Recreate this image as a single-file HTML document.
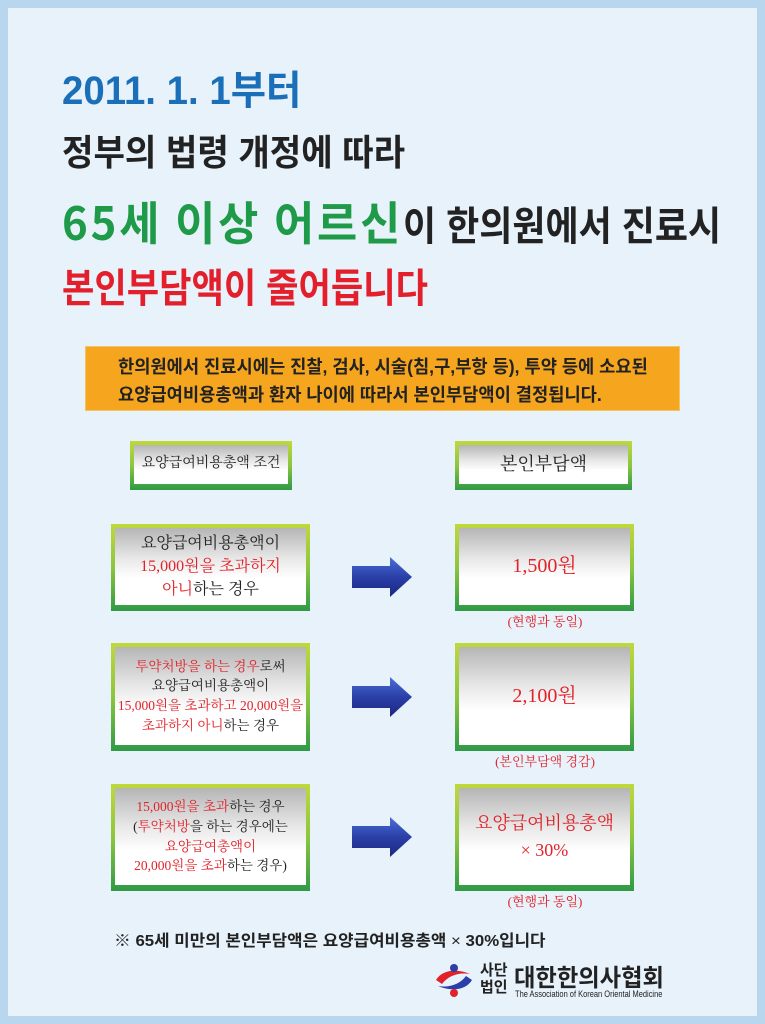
<!DOCTYPE html>
<html><head><meta charset="utf-8"><style>
*{margin:0;padding:0;box-sizing:border-box}
body{width:765px;height:1024px;overflow:hidden;background:#b9d6ef;position:relative;font-family:"Liberation Sans","Noto Sans CJK KR",sans-serif}
.page{position:absolute;left:8px;top:8px;width:749px;height:1008px;background:#e7f2fb}
.t{position:absolute;white-space:nowrap;transform-origin:left top;font-weight:bold}
.gb{position:absolute;background:linear-gradient(#c0d83a,#8cc63f 50%,#2f9a46);padding:4px 4px 6px 4px}
.gi{width:100%;height:100%;background:linear-gradient(#b5b5b5,#e8e8e8 40%,#fff 65%);display:flex;align-items:center;justify-content:center;text-align:center;font-family:"Liberation Serif","Noto Serif CJK SC",serif;color:#222;line-height:1.45}
.r{color:#e2222a}
.cap{position:absolute;font-family:"Liberation Serif","Noto Serif CJK SC",serif;color:#e2222a;font-size:13px;width:180px;text-align:center}
.arr{position:absolute}
</style></head><body>
<div class="page"></div>
<div class="t" style="left:62px;top:58px;font-size:40px;color:#1b6fb8;transform:scaleX(0.96)">2011. 1. 1부터</div>
<div class="t" style="left:62px;top:124px;font-size:36px;color:#222;transform:scaleX(0.95)">정부의 법령 개정에 따라</div>
<div class="t" style="left:62px;top:188px;font-size:46px;color:#1e9a48;letter-spacing:3px;font-family:'Noto Sans CJK KR',sans-serif;transform:scaleX(0.95)">65세 이상 어르신</div>
<div class="t" style="left:403px;top:194px;font-size:40px;color:#222;transform:scaleX(0.9)">이 한의원에서 진료시</div>
<div class="t" style="left:62px;top:256px;font-size:40px;color:#e21f2b;transform:scaleX(0.88)">본인부담액이 줄어듭니다</div>
<div style="position:absolute;left:85px;top:346px;width:595px;height:65px;background:#f6a51f;border:1px solid #f3c36a"></div>
<div class="t" style="left:118px;top:353px;font-size:18px;color:#222;transform:scaleX(0.98);line-height:28px">한의원에서 진료시에는 진찰, 검사, 시술(침,구,부항 등), 투약 등에 소요된<br>요양급여비용총액과 환자 나이에 따라서 본인부담액이 결정됩니다.</div>

<div class="gb" style="left:130px;top:441px;width:162px;height:49px"><div class="gi" style="font-size:14px">요양급여비용총액 조건</div></div>
<div class="gb" style="left:455px;top:441px;width:177px;height:49px"><div class="gi" style="font-size:18px">본인부담액</div></div>

<div class="gb" style="left:111px;top:524px;width:199px;height:87px"><div class="gi" style="font-size:16px"><div>요양급여비용총액이<br><span class="r">15,000원을 초과하지</span><br><span class="r">아니</span>하는 경우</div></div></div>
<div class="gb" style="left:455px;top:524px;width:179px;height:87px"><div class="gi" style="font-size:20px"><span class="r">1,500원</span></div></div>
<div class="cap" style="left:455px;top:611px">(현행과 동일)</div>

<div class="gb" style="left:111px;top:643px;width:199px;height:108px"><div class="gi" style="font-size:13.5px"><div><span class="r">투약처방을 하는 경우</span>로써<br>요양급여비용총액이<br><span class="r">15,000원을 초과하고 20,000원을</span><br><span class="r">초과하지 아니</span>하는 경우</div></div></div>
<div class="gb" style="left:455px;top:643px;width:179px;height:108px"><div class="gi" style="font-size:20px"><span class="r">2,100원</span></div></div>
<div class="cap" style="left:455px;top:751px">(본인부담액 경감)</div>

<div class="gb" style="left:111px;top:784px;width:199px;height:107px"><div class="gi" style="font-size:13.5px"><div><span class="r">15,000원을 초과</span>하는 경우<br>(<span class="r">투약처방</span>을 하는 경우에는<br><span class="r">요양급여총액이</span><br><span class="r">20,000원을 초과</span>하는 경우)</div></div></div>
<div class="gb" style="left:455px;top:784px;width:179px;height:107px"><div class="gi" style="font-size:18px"><div><span class="r">요양급여비용총액</span><br><span class="r">× 30%</span></div></div></div>
<div class="cap" style="left:455px;top:891px">(현행과 동일)</div>

<svg class="arr" style="left:350px;top:556px" width="64" height="42"><defs><linearGradient id="a" x1="0" y1="0" x2="0" y2="1"><stop offset="0" stop-color="#4a6fd8"/><stop offset="0.5" stop-color="#2a3fa8"/><stop offset="1" stop-color="#1c2680"/></linearGradient></defs><polygon points="2,10 40,10 40,1 62,21 40,41 40,32 2,32" fill="url(#a)"/></svg>
<svg class="arr" style="left:350px;top:676px" width="64" height="42"><polygon points="2,10 40,10 40,1 62,21 40,41 40,32 2,32" fill="url(#a)"/></svg>
<svg class="arr" style="left:350px;top:816px" width="64" height="42"><polygon points="2,10 40,10 40,1 62,21 40,41 40,32 2,32" fill="url(#a)"/></svg>

<div class="t" style="left:114px;top:927px;font-size:16px;color:#222;transform:scaleX(1.05)">※ 65세 미만의 본인부담액은 요양급여비용총액 <span style="font-weight:normal">×</span> 30%입니다</div>

<svg style="position:absolute;left:432px;top:962px" width="44" height="36"><path d="M4,18 C10,8 24,6 38,12 C26,10 16,14 10,22 Z" fill="#e2222a"/><path d="M40,18 C34,28 20,30 6,24 C18,26 28,22 34,14 Z" fill="#2a3fa8"/><circle cx="22" cy="6" r="4" fill="#2a3fa8"/><circle cx="22" cy="31" r="4" fill="#e2222a"/></svg>
<div class="t" style="left:480px;top:962px;font-size:15px;color:#222;line-height:17px">사단<br>법인</div>
<div class="t" style="left:514px;top:958px;font-size:24px;color:#222;transform:scaleX(0.97)">대한한의사협회</div>
<div class="t" style="left:515px;top:989px;font-size:9px;color:#222;font-weight:normal;transform:scaleX(0.83)">The Association of Korean Oriental Medicine</div>
</body></html>
